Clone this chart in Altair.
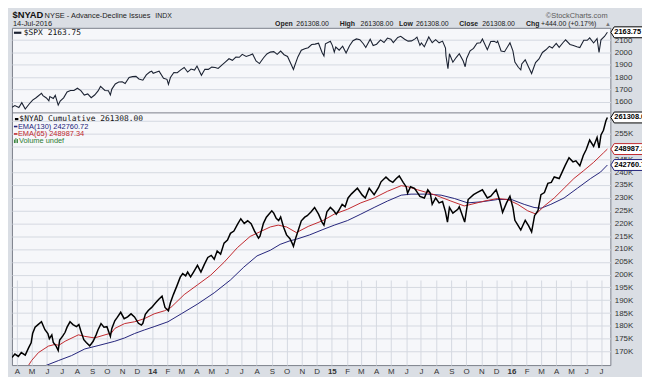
import altair as alt
import pandas as pd
from datetime import datetime, timezone

# ---------------- data ----------------
spx_points = [
    ("2013-03-22", 1556), ("2013-03-28", 1569), ("2013-04-05", 1553), ("2013-04-11", 1593), ("2013-04-18", 1541),
    ("2013-04-26", 1582), ("2013-05-03", 1614), ("2013-05-10", 1633), ("2013-05-21", 1669), ("2013-05-24", 1650),
    ("2013-05-31", 1631), ("2013-06-05", 1608), ("2013-06-07", 1643), ("2013-06-14", 1626), ("2013-06-18", 1652),
    ("2013-06-24", 1573), ("2013-06-28", 1606), ("2013-07-05", 1632), ("2013-07-12", 1680), ("2013-07-19", 1692),
    ("2013-07-26", 1692), ("2013-08-02", 1710), ("2013-08-09", 1691), ("2013-08-16", 1655), ("2013-08-23", 1664),
    ("2013-08-30", 1633), ("2013-09-06", 1655), ("2013-09-13", 1688), ("2013-09-18", 1725), ("2013-09-27", 1692),
    ("2013-10-04", 1690), ("2013-10-08", 1656), ("2013-10-11", 1703), ("2013-10-18", 1745), ("2013-10-25", 1760),
    ("2013-11-01", 1762), ("2013-11-07", 1748), ("2013-11-15", 1798), ("2013-11-22", 1804), ("2013-11-29", 1806),
    ("2013-12-05", 1785), ("2013-12-13", 1775), ("2013-12-20", 1818), ("2013-12-27", 1841), ("2013-12-31", 1848),
    ("2014-01-03", 1831), ("2014-01-10", 1842), ("2014-01-15", 1848), ("2014-01-24", 1790), ("2014-01-31", 1782),
    ("2014-02-03", 1741), ("2014-02-07", 1797), ("2014-02-14", 1838), ("2014-02-21", 1836), ("2014-02-28", 1859),
    ("2014-03-07", 1878), ("2014-03-14", 1841), ("2014-03-21", 1866), ("2014-03-28", 1857), ("2014-04-02", 1890),
    ("2014-04-11", 1815), ("2014-04-18", 1864), ("2014-04-25", 1863), ("2014-05-02", 1881), ("2014-05-09", 1878),
    ("2014-05-15", 1870), ("2014-05-23", 1900), ("2014-05-30", 1924), ("2014-06-06", 1949), ("2014-06-13", 1936),
    ("2014-06-20", 1963), ("2014-06-27", 1961), ("2014-07-03", 1985), ("2014-07-11", 1968), ("2014-07-18", 1978),
    ("2014-07-24", 1988), ("2014-07-31", 1931), ("2014-08-07", 1910), ("2014-08-15", 1955), ("2014-08-22", 1988),
    ("2014-08-29", 2003), ("2014-09-05", 2007), ("2014-09-12", 1985), ("2014-09-19", 2011), ("2014-09-26", 1982),
    ("2014-10-03", 1968), ("2014-10-10", 1906), ("2014-10-15", 1862), ("2014-10-17", 1886), ("2014-10-24", 1964),
    ("2014-10-31", 2018), ("2014-11-07", 2031), ("2014-11-14", 2039), ("2014-11-21", 2064), ("2014-11-28", 2068),
    ("2014-12-05", 2075), ("2014-12-12", 2002), ("2014-12-16", 1972), ("2014-12-19", 2070), ("2014-12-29", 2091),
    ("2015-01-02", 2058), ("2015-01-06", 2003), ("2015-01-09", 2044), ("2015-01-16", 2019), ("2015-01-23", 2051),
    ("2015-01-30", 1995), ("2015-02-06", 2055), ("2015-02-13", 2096), ("2015-02-20", 2110), ("2015-02-27", 2104),
    ("2015-03-06", 2071), ("2015-03-11", 2040), ("2015-03-20", 2108), ("2015-03-26", 2056), ("2015-04-02", 2067),
    ("2015-04-10", 2102), ("2015-04-17", 2081), ("2015-04-24", 2117), ("2015-05-01", 2108), ("2015-05-06", 2080),
    ("2015-05-15", 2122), ("2015-05-21", 2131), ("2015-05-29", 2107), ("2015-06-05", 2092), ("2015-06-12", 2094),
    ("2015-06-19", 2110), ("2015-06-23", 2124), ("2015-06-29", 2058), ("2015-07-02", 2077), ("2015-07-08", 2046),
    ("2015-07-17", 2126), ("2015-07-24", 2079), ("2015-07-31", 2104), ("2015-08-07", 2078), ("2015-08-14", 2092),
    ("2015-08-20", 2036), ("2015-08-21", 1971), ("2015-08-25", 1868), ("2015-08-28", 1989), ("2015-09-04", 1921),
    ("2015-09-11", 1961), ("2015-09-17", 1990), ("2015-09-25", 1931), ("2015-09-29", 1884), ("2015-10-02", 1951),
    ("2015-10-09", 2014), ("2015-10-16", 2033), ("2015-10-23", 2075), ("2015-10-30", 2079), ("2015-11-03", 2109),
    ("2015-11-13", 2023), ("2015-11-20", 2089), ("2015-11-27", 2090), ("2015-12-02", 2080), ("2015-12-04", 2092),
    ("2015-12-11", 2012), ("2015-12-18", 2006), ("2015-12-29", 2078), ("2016-01-04", 2013), ("2016-01-08", 1922),
    ("2016-01-15", 1880), ("2016-01-20", 1859), ("2016-01-22", 1907), ("2016-01-29", 1940), ("2016-02-05", 1880),
    ("2016-02-11", 1829), ("2016-02-19", 1918), ("2016-02-26", 1948), ("2016-03-04", 2000), ("2016-03-11", 2022),
    ("2016-03-18", 2050), ("2016-03-24", 2036), ("2016-04-01", 2073), ("2016-04-07", 2041), ("2016-04-15", 2081),
    ("2016-04-20", 2102), ("2016-04-29", 2065), ("2016-05-06", 2057), ("2016-05-13", 2047), ("2016-05-19", 2040),
    ("2016-05-27", 2099), ("2016-06-03", 2099), ("2016-06-08", 2119), ("2016-06-16", 2077), ("2016-06-23", 2113),
    ("2016-06-27", 2001), ("2016-07-01", 2103), ("2016-07-08", 2130), ("2016-07-14", 2163.75),
]

# $NYAD cumulative, in thousands
nyad_points = [
    ("2013-03-22", 167.7), ("2013-03-28", 169.0), ("2013-04-04", 168.1), ("2013-04-10", 169.6), ("2013-04-18", 168.6),
    ("2013-04-25", 171.5), ("2013-04-30", 173.4), ("2013-05-03", 177.0), ("2013-05-08", 179.5), ("2013-05-14", 180.5),
    ("2013-05-21", 181.6), ("2013-05-28", 178.5), ("2013-06-03", 177.0), ("2013-06-06", 175.0), ("2013-06-11", 176.5),
    ("2013-06-14", 173.5), ("2013-06-20", 172.0), ("2013-06-24", 170.4), ("2013-06-27", 174.5), ("2013-07-03", 176.0),
    ("2013-07-08", 177.5), ("2013-07-12", 179.5), ("2013-07-18", 181.6), ("2013-07-24", 180.5), ("2013-07-31", 179.7),
    ("2013-08-05", 180.5), ("2013-08-09", 178.0), ("2013-08-15", 174.6), ("2013-08-20", 173.5), ("2013-08-27", 172.2),
    ("2013-09-03", 174.0), ("2013-09-09", 176.5), ("2013-09-13", 178.5), ("2013-09-19", 180.9), ("2013-09-25", 179.5),
    ("2013-10-01", 179.7), ("2013-10-08", 175.9), ("2013-10-11", 179.0), ("2013-10-17", 182.0), ("2013-10-22", 183.3),
    ("2013-10-29", 185.3), ("2013-11-05", 182.8), ("2013-11-12", 183.5), ("2013-11-19", 184.7), ("2013-11-26", 183.5),
    ("2013-12-04", 181.0), ("2013-12-10", 180.3), ("2013-12-13", 181.0), ("2013-12-18", 184.5), ("2013-12-24", 186.0),
    ("2013-12-31", 187.2), ("2014-01-08", 189.0), ("2014-01-15", 190.5), ("2014-01-21", 191.6), ("2014-01-27", 187.2),
    ("2014-02-03", 185.9), ("2014-02-07", 189.0), ("2014-02-13", 192.2), ("2014-02-20", 195.5), ("2014-02-27", 199.0),
    ("2014-03-04", 200.4), ("2014-03-10", 199.5), ("2014-03-14", 201.0), ("2014-03-20", 199.1), ("2014-03-26", 201.0),
    ("2014-04-03", 203.6), ("2014-04-10", 201.0), ("2014-04-17", 204.0), ("2014-04-24", 206.7), ("2014-05-01", 207.5),
    ("2014-05-07", 206.0), ("2014-05-13", 209.2), ("2014-05-20", 208.0), ("2014-05-27", 212.3), ("2014-06-03", 213.5),
    ("2014-06-09", 216.1), ("2014-06-16", 217.0), ("2014-06-23", 219.5), ("2014-06-30", 221.8), ("2014-07-07", 220.0),
    ("2014-07-14", 221.0), ("2014-07-21", 219.9), ("2014-07-28", 217.0), ("2014-08-05", 214.2), ("2014-08-08", 215.0),
    ("2014-08-15", 220.0), ("2014-08-21", 222.4), ("2014-09-01", 224.9), ("2014-09-05", 224.0), ("2014-09-10", 222.0),
    ("2014-09-15", 221.1), ("2014-09-19", 222.5), ("2014-09-25", 218.5), ("2014-10-01", 215.5), ("2014-10-08", 214.0),
    ("2014-10-13", 212.0), ("2014-10-15", 211.1), ("2014-10-20", 214.5), ("2014-10-25", 217.4), ("2014-10-31", 221.0),
    ("2014-11-07", 222.4), ("2014-11-12", 223.0), ("2014-11-20", 224.5), ("2014-11-27", 226.2), ("2014-12-05", 223.6),
    ("2014-12-12", 220.5), ("2014-12-16", 219.3), ("2014-12-22", 224.5), ("2014-12-29", 226.2), ("2015-01-05", 224.9),
    ("2015-01-10", 223.6), ("2015-01-15", 225.0), ("2015-01-22", 227.4), ("2015-01-28", 226.5), ("2015-02-03", 229.9),
    ("2015-02-10", 231.5), ("2015-02-22", 233.7), ("2015-03-04", 231.0), ("2015-03-10", 229.9), ("2015-03-18", 233.7),
    ("2015-03-28", 231.2), ("2015-04-06", 234.0), ("2015-04-11", 236.2), ("2015-04-21", 238.1), ("2015-04-28", 236.8),
    ("2015-05-05", 236.0), ("2015-05-12", 237.5), ("2015-05-18", 238.5), ("2015-05-26", 236.0), ("2015-06-01", 234.3),
    ("2015-06-04", 231.8), ("2015-06-10", 234.3), ("2015-06-18", 233.7), ("2015-06-24", 232.0), ("2015-06-29", 230.5),
    ("2015-07-08", 229.9), ("2015-07-15", 233.1), ("2015-07-20", 231.8), ("2015-07-24", 227.4), ("2015-07-31", 229.9),
    ("2015-08-07", 228.0), ("2015-08-14", 228.5), ("2015-08-20", 224.5), ("2015-08-24", 220.5), ("2015-08-28", 226.2),
    ("2015-09-04", 224.0), ("2015-09-14", 225.5), ("2015-09-17", 226.5), ("2015-09-28", 220.5), ("2015-10-05", 229.3),
    ("2015-10-16", 231.2), ("2015-10-23", 232.0), ("2015-11-03", 233.1), ("2015-11-13", 229.9), ("2015-11-20", 230.6),
    ("2015-12-01", 233.1), ("2015-12-08", 229.0), ("2015-12-14", 224.3), ("2015-12-22", 228.0), ("2015-12-29", 230.6),
    ("2016-01-04", 226.2), ("2016-01-08", 221.2), ("2016-01-15", 219.0), ("2016-01-20", 217.4), ("2016-01-29", 221.2),
    ("2016-02-05", 219.0), ("2016-02-11", 216.7), ("2016-02-17", 223.0), ("2016-02-24", 225.0), ("2016-03-01", 231.2),
    ("2016-03-08", 232.0), ("2016-03-15", 235.6), ("2016-03-22", 236.0), ("2016-03-28", 238.1), ("2016-04-07", 237.5),
    ("2016-04-13", 240.0), ("2016-04-19", 242.5), ("2016-04-27", 245.6), ("2016-05-05", 244.0), ("2016-05-11", 244.4),
    ("2016-05-19", 242.5), ("2016-05-26", 246.5), ("2016-06-01", 248.8), ("2016-06-08", 252.5), ("2016-06-16", 250.0),
    ("2016-06-23", 253.5), ("2016-06-27", 249.4), ("2016-07-01", 254.5), ("2016-07-06", 256.3), ("2016-07-11", 260.0),
    ("2016-07-14", 261.308),
]

ema65_points = [
    ("2013-03-22", 157.5), ("2013-04-25", 164.7), ("2013-05-01", 166.5), ("2013-05-15", 169.6), ("2013-06-04", 172.1),
    ("2013-06-18", 172.8), ("2013-06-25", 172.4), ("2013-07-08", 174.0), ("2013-08-04", 176.5), ("2013-08-17", 175.9),
    ("2013-09-06", 175.3), ("2013-09-27", 176.5), ("2013-10-10", 177.2), ("2013-10-17", 179.0), ("2013-11-06", 180.9),
    ("2013-11-26", 181.6), ("2013-12-16", 182.8), ("2014-01-05", 184.7), ("2014-01-26", 185.9), ("2014-02-08", 187.2),
    ("2014-03-07", 192.2), ("2014-04-03", 196.0), ("2014-04-30", 199.8), ("2014-05-27", 204.8), ("2014-06-23", 210.5),
    ("2014-07-19", 214.9), ("2014-08-08", 216.7), ("2014-08-29", 218.6), ("2014-09-14", 219.3), ("2014-10-01", 218.6),
    ("2014-10-21", 216.4), ("2014-11-14", 218.8), ("2014-12-14", 221.1), ("2015-01-06", 223.6), ("2015-02-02", 225.5),
    ("2015-03-01", 228.0), ("2015-03-28", 229.9), ("2015-04-24", 232.5), ("2015-05-22", 234.7), ("2015-06-04", 234.3),
    ("2015-06-24", 233.1), ("2015-07-28", 231.2), ("2015-08-31", 228.7), ("2015-09-27", 226.8), ("2015-10-11", 227.4),
    ("2015-11-07", 228.7), ("2015-12-04", 229.7), ("2015-12-24", 229.3), ("2016-01-14", 227.4), ("2016-02-03", 224.9),
    ("2016-02-20", 223.6), ("2016-03-08", 226.8), ("2016-03-28", 229.9), ("2016-04-17", 233.7), ("2016-05-07", 237.5),
    ("2016-05-27", 240.6), ("2016-06-16", 243.8), ("2016-07-06", 247.5), ("2016-07-14", 248.98734),
]

ema130_points = [
    ("2013-03-22", 158.5), ("2013-06-01", 164.7), ("2013-06-25", 166.5), ("2013-07-21", 168.4), ("2013-08-17", 171.0),
    ("2013-09-13", 172.3), ("2013-10-17", 174.0), ("2013-11-06", 175.3), ("2013-11-26", 177.0), ("2013-12-16", 178.4),
    ("2014-01-05", 179.7), ("2014-02-02", 181.6), ("2014-03-01", 184.7), ("2014-04-03", 188.5), ("2014-05-07", 192.9),
    ("2014-06-09", 197.9), ("2014-07-06", 202.9), ("2014-08-02", 207.3), ("2014-08-29", 209.5), ("2014-09-18", 211.8),
    ("2014-10-08", 213.2), ("2014-10-21", 213.8), ("2014-11-17", 215.5), ("2014-12-14", 217.6), ("2015-01-06", 219.3),
    ("2015-02-02", 221.1), ("2015-03-01", 223.6), ("2015-03-28", 226.2), ("2015-04-24", 228.7), ("2015-05-22", 231.0),
    ("2015-06-11", 231.4), ("2015-07-15", 231.4), ("2015-08-11", 231.0), ("2015-09-07", 229.7), ("2015-10-04", 228.0),
    ("2015-11-01", 228.4), ("2015-12-04", 229.3), ("2016-01-01", 229.3), ("2016-01-27", 227.4), ("2016-02-16", 226.2),
    ("2016-03-01", 225.9), ("2016-03-21", 227.4), ("2016-04-17", 229.9), ("2016-05-14", 233.7), ("2016-06-10", 237.5),
    ("2016-06-30", 240.0), ("2016-07-14", 242.76072),
]

spx_last = 2163.75
nyad_last = 261308.00
ema130_last = 242760.72
ema65_last = 248987.34
nyad_chg = 444.00
nyad_chg_pct = 0.17
spx_ticks = [1600, 1700, 1800, 1900, 2000, 2100]
nyad_ticks = [170, 175, 180, 185, 190, 195, 200, 205, 210, 215, 220, 225, 230, 235, 240, 245, 250, 255, 260]


def ms(s):
    return int(datetime.strptime(s, "%Y-%m-%d").replace(tzinfo=timezone.utc).timestamp() * 1000)


# ---------------- layout / style ----------------
W, H, TOP = 605, 341, 86
FONT = "Liberation Sans"
MONO = "DejaVu Sans Mono"
GRID = "#d5d9e1"
BG = "#dadee4"
PLOT_BG = "#f6f7fa"
BORDER = "#7b808a"
C_SPX = "#1b2232"
C_NY = "#000000"
C_E130 = "#23237a"
C_E65 = "#c0282e"

month_ticks = []
yy, mm = 2013, 4
while (yy, mm) <= (2016, 7):
    month_ticks.append(ms(f"{yy}-{mm:02d}-01"))
    mm += 1
    if mm > 12:
        mm, yy = 1, yy + 1

x_axis = alt.Axis(
    values=month_ticks,
    labelExpr="utcmonth(datum.value) == 0 ? utcFormat(datum.value, '%y') : slice(utcFormat(datum.value, '%b'), 0, 1)",
    grid=True, gridColor=GRID, gridWidth=1, ticks=False, domain=False, title=None,
    labelFont=FONT, labelFontSize=8, labelColor="#333333", labelPadding=2,
    labelFlush=False, labelOverlap=False,
    labelFontWeight={"condition": {"test": "utcmonth(datum.value) == 0", "value": "bold"}, "value": "normal"},
)
x_enc = alt.X("date:T", scale=alt.Scale(domain=[ms("2013-03-22"), ms("2016-07-20")]), axis=x_axis)

spx_scale = alt.Scale(domain=[1510, 2200], range=[TOP, 0], nice=False, zero=False)
ny_scale = alt.Scale(domain=[164.7, 263.1], range=[H, TOP], nice=False, zero=False)

axis_common = dict(orient="right", ticks=False, domain=False, grid=True, gridColor=GRID, gridWidth=1,
                   labelFont=FONT, labelFontSize=8, labelColor="#333333", labelPadding=4, title=None,
                   labelOverlap=False, labelFlush=False)
spx_axis = alt.Axis(values=spx_ticks, format="d", **axis_common)
ny_axis = alt.Axis(values=nyad_ticks, labelExpr="datum.value + 'K'", **axis_common)

dummy = alt.Data(values=[{}])

spx_df = pd.DataFrame(spx_points, columns=["date", "v"])
ny_df = pd.DataFrame(nyad_points, columns=["date", "v"])
e65_df = pd.DataFrame(ema65_points, columns=["date", "v"])
e130_df = pd.DataFrame(ema130_points, columns=["date", "v"])

spx_line = alt.Chart(spx_df).mark_line(color=C_SPX, strokeWidth=1.1, clip=True).encode(
    x=x_enc, y=alt.Y("v:Q", scale=spx_scale, axis=spx_axis))
e130_line = alt.Chart(e130_df).mark_line(color=C_E130, strokeWidth=1, clip=True).encode(
    x=x_enc, y=alt.Y("v:Q", scale=ny_scale, axis=ny_axis))
e65_line = alt.Chart(e65_df).mark_line(color=C_E65, strokeWidth=1, clip=True).encode(
    x=x_enc, y=alt.Y("v:Q", scale=ny_scale, axis=None))
ny_line = alt.Chart(ny_df).mark_line(color=C_NY, strokeWidth=1.5, clip=True).encode(
    x=x_enc, y=alt.Y("v:Q", scale=ny_scale, axis=None))

separator = alt.Chart(dummy).mark_rule(color=BORDER, strokeWidth=1).encode(
    x=alt.value(0), x2=alt.value(W), y=alt.value(TOP))

# value boxes on the right axis
BOX_W = 38
BOX_PATH = "M-1,0L-0.82,-0.29L1,-0.29L1,0.29L-0.82,0.29Z"


def value_box(value, label, scale, stroke):
    df = pd.DataFrame({"v": [value], "t": [label]})
    box = alt.Chart(df).mark_point(shape=BOX_PATH, size=BOX_W * BOX_W, filled=True, fill="white",
                                   stroke=stroke, strokeWidth=1, opacity=1).encode(
        x=alt.value(W + BOX_W / 2 + 0.5), y=alt.Y("v:Q", scale=scale, axis=None))
    txt = alt.Chart(df).mark_text(align="left", baseline="middle", font=FONT, fontSize=7.5,
                                  fontWeight="bold", color="#000000").encode(
        x=alt.value(W + 4), y=alt.Y("v:Q", scale=scale, axis=None), text="t:N")
    return [box, txt]


def label(text, x, y, size=7, weight="normal", color="#222222", font=FONT, baseline="alphabetic"):
    return alt.Chart(dummy).mark_text(text=text, align="left", baseline=baseline, fontSize=size,
                                      fontWeight=weight, color=color, font=font).encode(
        x=alt.value(x), y=alt.value(y))


def dash(x1, x2, y, color, width=2):
    return alt.Chart(dummy).mark_rule(color=color, strokeWidth=width).encode(
        x=alt.value(x1), x2=alt.value(x2), y=alt.value(y))


L1, L2 = -10, -2
val = f"{nyad_last:.2f}"
header = [
    label("$NYAD", 0.5, L1, size=9.5, weight="bold", color="#111111"),
    label("NYSE - Advance-Decline Issues", 33, L1, size=7.5),
    label("INDX", 145, L1, size=7),
    label("14-Jul-2016", 1, L2, size=7.5),
    label("Open", 266, L2, weight="bold"), label(val, 287.5, L2),
    label("High", 331.3, L2, weight="bold"), label(val, 352.5, L2),
    label("Low", 391.3, L2, weight="bold"), label(val, 408.5, L2),
    label("Close", 452.3, L2, weight="bold"), label(val, 475.5, L2),
    label("Chg", 519.7, L2, weight="bold"), label(f"+{nyad_chg:.2f} (+{nyad_chg_pct:.2f}%)", 535, L2),
    label("\u25b2", 599.5, L2, size=6, color="#777777"),
    label("\u00a9StockCharts.com", 539.7, L1, size=7.5, color="#5a5a5a"),
]

legend = [
    dash(2, 9.5, 5, C_SPX, 2.2),
    label(f"$SPX {spx_last:.2f}", 12, 5, size=8, font=MONO, color="#111111", baseline="middle"),
    dash(3, 6.5, 92.3, C_NY, 2.2),
    label(f"$NYAD Cumulative {nyad_last:.2f}", 7.5, 92.3, size=8, font=MONO, color="#111111", baseline="middle"),
    dash(2, 5.5, 99.8, C_E130, 1.6),
    label(f"EMA(130) {ema130_last:.2f}", 6, 99.8, size=7.5, color=C_E130, baseline="middle"),
    dash(2, 5.5, 107.3, C_E65, 1.6),
    label(f"EMA(65) {ema65_last:.2f}", 6, 107.3, size=7.5, color=C_E65, baseline="middle"),
    alt.Chart(dummy).mark_rule(color="#2e7d32", strokeWidth=1).encode(x=alt.value(2.5), y=alt.value(113), y2=alt.value(116.5)),
    alt.Chart(dummy).mark_rule(color="#2e7d32", strokeWidth=1).encode(x=alt.value(4), y=alt.value(111.5), y2=alt.value(116.5)),
    alt.Chart(dummy).mark_rule(color="#2e7d32", strokeWidth=1).encode(x=alt.value(5.5), y=alt.value(112.5), y2=alt.value(116.5)),
    label("Volume undef", 7, 114.3, size=7.5, color="#2e7d32", baseline="middle"),
]

boxes = (value_box(spx_last, f"{spx_last:.2f}", spx_scale, "#000000")
         + value_box(ema130_last / 1000, f"{ema130_last:.2f}", ny_scale, C_E130)
         + value_box(ema65_last / 1000, f"{ema65_last:.2f}", ny_scale, C_E65)
         + value_box(nyad_last / 1000, f"{nyad_last:.2f}", ny_scale, "#000000"))

layers = [spx_line, e130_line, e65_line, ny_line, separator] + legend + boxes + header

chart = alt.layer(*layers).resolve_scale(y="independent").properties(
    width=W, height=H,
    autosize=alt.AutoSizeParams(type="none"),
    padding={"left": 4, "top": 18, "right": 32, "bottom": 10},
    background=BG,
).configure_view(fill=PLOT_BG, stroke=BORDER, strokeWidth=1)

chart.save("out.html", embed_options={"renderer": "svg", "actions": False})
